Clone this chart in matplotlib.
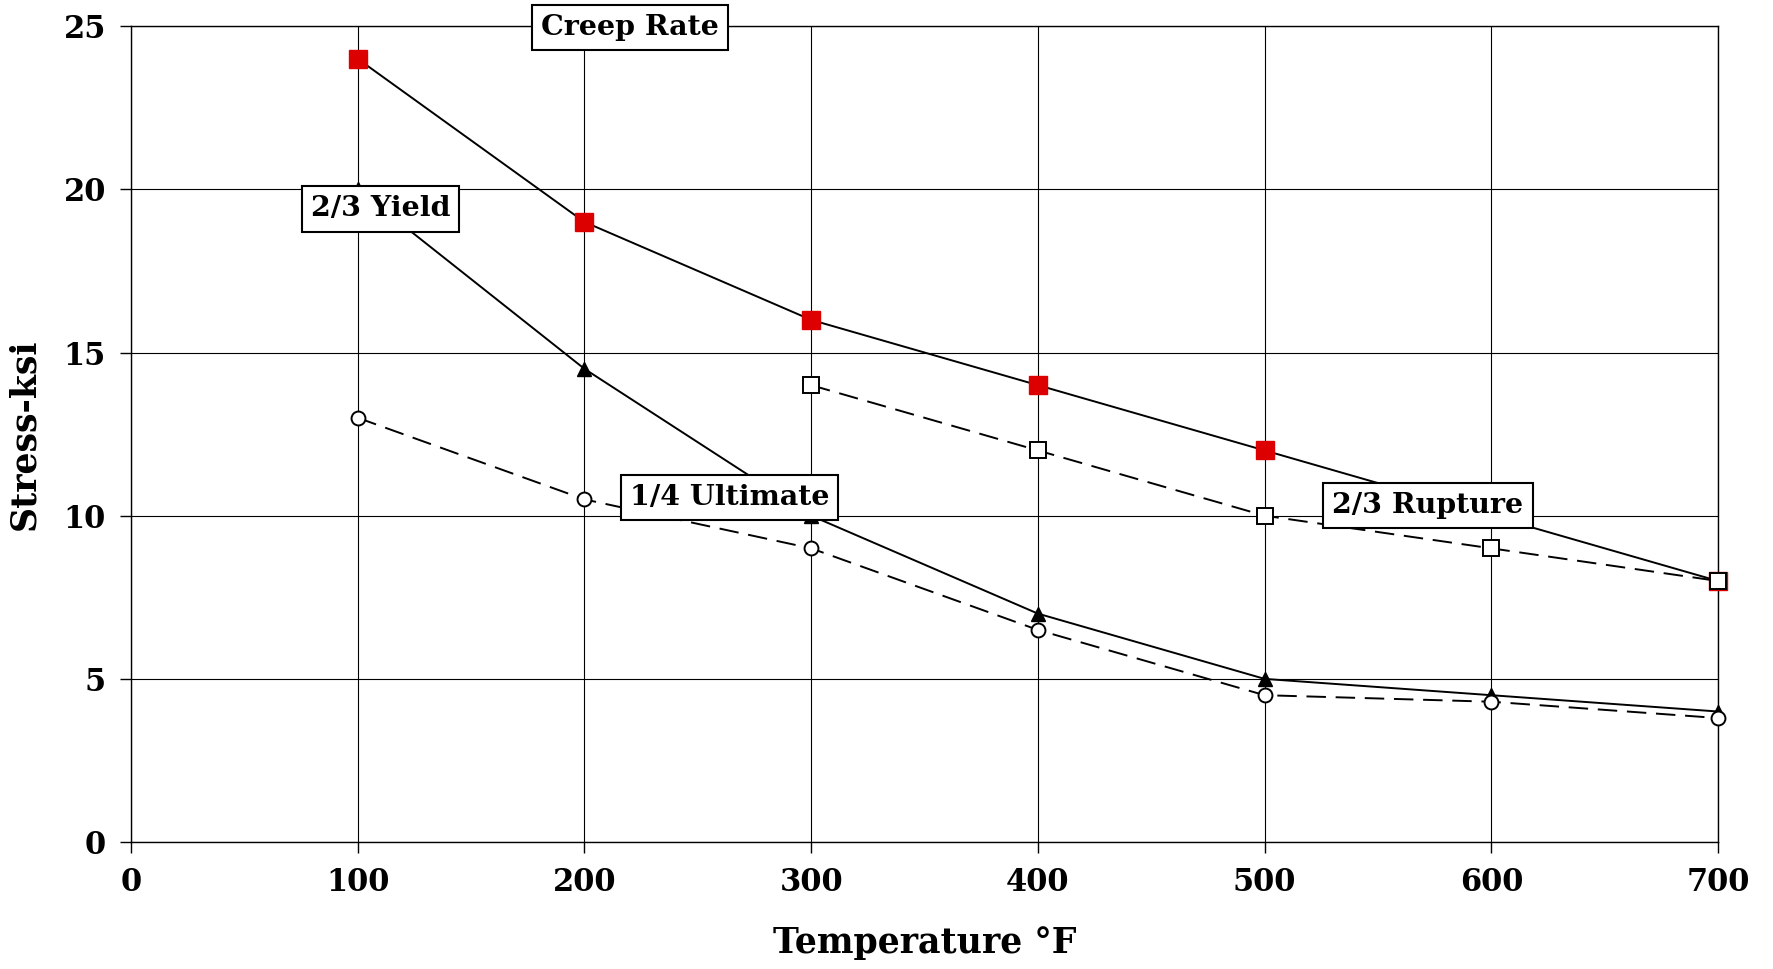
import matplotlib
matplotlib.use("Agg")
import matplotlib.pyplot as plt

plt.rcParams["font.family"] = "DejaVu Serif"
plt.rcParams["font.weight"] = "bold"

temps = [100, 200, 300, 400, 500, 600, 700]
creep_rate = [24, 19, 16, 14, 12, 10, 8]
yield_23 = [20, 14.5, 10, 7, 5, 4.5, 4]
ultimate_14 = [13, 10.5, 9, 6.5, 4.5, 4.3, 3.8]
rupture_temps = [300, 400, 500, 600, 700]
rupture_23 = [14, 12, 10, 9, 8]

fig = plt.figure(figsize=(17.73, 9.69), dpi=100)
ax = fig.add_axes([0.0739, 0.131, 0.8951, 0.842])

dashed = (0, (10, 5))
ax.plot(temps, creep_rate, color="black", lw=1.4, marker="s", ms=13,
        mfc="#dd0000", mec="#dd0000", zorder=3, clip_on=False)
ax.plot(temps, yield_23, color="black", lw=1.4, marker="^", ms=10,
        mfc="black", mec="black", zorder=3, clip_on=False)
ax.plot(temps, ultimate_14, color="black", lw=1.4, ls=dashed, marker="o", ms=10,
        mfc="white", mec="black", mew=1.4, zorder=4, clip_on=False)
ax.plot(rupture_temps, rupture_23, color="black", lw=1.4, ls=dashed, marker="s", ms=11.5,
        mfc="white", mec="black", mew=1.4, zorder=4, clip_on=False)

ax.set_xlim(0, 700)
ax.set_ylim(0, 25)
ax.set_xticks(range(0, 701, 100))
ax.set_yticks(range(0, 26, 5))
ax.grid(True, color="black", lw=0.8)
ax.tick_params(axis="both", direction="out", length=8, width=1, labelsize=22, pad=10)
for lbl in ax.get_xticklabels() + ax.get_yticklabels():
    lbl.set_fontweight("bold")
for s in ax.spines.values():
    s.set_linewidth(1)

ax.set_xlabel("Temperature °F", fontsize=25, fontweight="bold", labelpad=20)
ax.set_ylabel("Stress-ksi", fontsize=25, fontweight="bold", labelpad=16)

box = dict(boxstyle="square,pad=0.32", fc="white", ec="black", lw=1.5)
labels = [("Creep Rate", 220, 24.97), ("2/3 Yield", 110, 19.4),
          ("1/4 Ultimate", 264, 10.56), ("2/3 Rupture", 572, 10.32)]
for text, x, y in labels:
    ax.text(x, y, text, fontsize=20.5, fontweight="bold", ha="center", va="center",
            bbox=box, zorder=6, clip_on=False)

fig.savefig("out.png", dpi=100, facecolor="white")
